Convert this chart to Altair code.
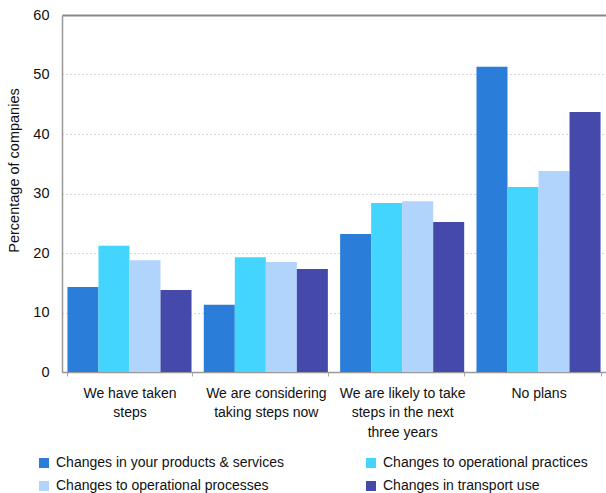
import altair as alt
import pandas as pd

categories = ["We have taken|steps", "We are considering|taking steps now",
              "We are likely to take|steps in the next|three years", "No plans"]
series = ["Changes in your products & services", "Changes to operational practices",
          "Changes to operational processes", "Changes in transport use"]
colors = ["#2A7DD9", "#43D5FE", "#B0D4FC", "#4549AA"]
products = [14.3, 11.3, 23.2, 51.3]
practices = [21.2, 19.3, 28.4, 31.1]
processes = [18.8, 18.5, 28.7, 33.8]
transport = [13.8, 17.3, 25.2, 43.7]

rows = []
for s, vals in zip(series, [products, practices, processes, transport]):
    for c, v in zip(categories, vals):
        rows.append({"cat": c, "series": s, "value": v})
df = pd.DataFrame(rows)

# legend fills column by column: reorder so rows read like the reference
legend_order = [series[0], series[2], series[1], series[3]]
legend_colors = [colors[0], colors[2], colors[1], colors[3]]

top_test = "datum.value === 60"

chart = alt.Chart(df).mark_bar().encode(
    x=alt.X("cat:N", sort=categories, title=None,
            scale=alt.Scale(paddingInner=0.09, paddingOuter=0.04),
            axis=alt.Axis(labelAngle=0, labelExpr="split(datum.label, '|')",
                          labelFont="Liberation Sans", labelFontSize=14, labelColor="#111",
                          labelLineHeight=19.5, labelPadding=10, labelBaseline="top",
                          tickBand="extent", tickSize=4, tickColor="#aaa",
                          domainColor="#999", domainWidth=1.5)),
    xOffset=alt.XOffset("series:N", sort=series),
    y=alt.Y("value:Q", title="Percentage of companies",
            scale=alt.Scale(domain=[0, 60]),
            axis=alt.Axis(values=[0, 10, 20, 30, 40, 50, 60], ticks=False,
                          labelFont="Liberation Sans", labelFontSize=14.5, labelColor="#111",
                          labelPadding=13, titleFont="Liberation Sans", titleFontSize=14.5,
                          titleFontWeight="normal", titleColor="#111",
                          titleX=-48, titleY=155, titleAlign="center", titleBaseline="middle",
                          titleAngle=270,
                          grid=True,
                          gridColor={"condition": {"test": top_test, "value": "#888"}, "value": "#aaa"},
                          gridDash={"condition": {"test": top_test, "value": []}, "value": [1, 3]},
                          gridWidth={"condition": {"test": top_test, "value": 2}, "value": 1},
                          domainColor="#999", domainWidth=1.5)),
    color=alt.Color("series:N", sort=legend_order,
                    scale=alt.Scale(domain=legend_order, range=legend_colors),
                    legend=alt.Legend(title=None, orient="none", legendX=-25, legendY=441,
                                      columns=2, columnPadding=80, rowPadding=9,
                                      labelLimit=400,
                                      symbolType="square", symbolSize=100,
                                      symbolStrokeWidth=0, symbolOpacity=1,
                                      labelFont="Liberation Sans", labelFontSize=14,
                                      labelColor="#111", labelOffset=5)),
).properties(
    width=544, height=357,
    autosize=alt.AutoSizeParams(type="none"),
    padding={"left": 62, "top": 15, "right": 0, "bottom": 121},
).configure_view(strokeWidth=0)

chart.save("out.html", embed_options={"renderer": "svg", "actions": False})
